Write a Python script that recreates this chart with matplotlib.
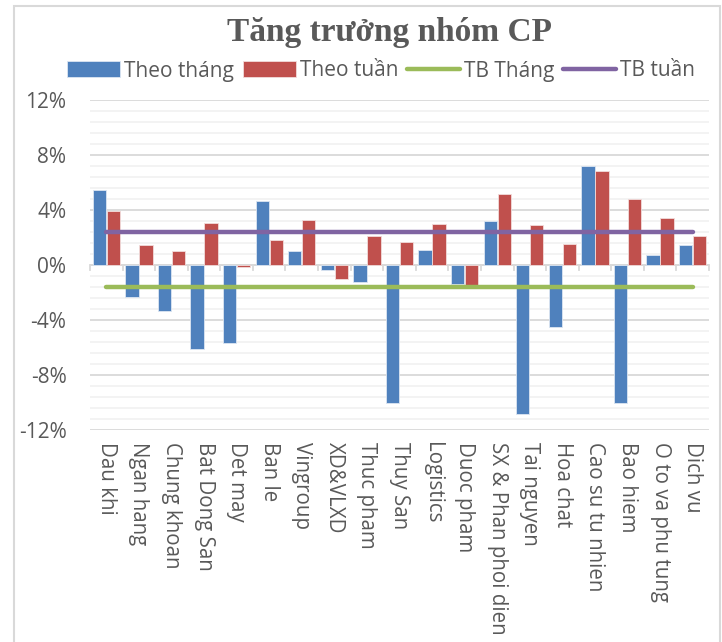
import numpy as np
import matplotlib
matplotlib.use("Agg")
from matplotlib import pyplot as plt
from matplotlib.patches import Rectangle
from matplotlib.ticker import MultipleLocator, FuncFormatter

categories = ["Dau khi", "Ngan hang", "Chung khoan", "Bat Dong San", "Det may",
              "Ban le", "Vingroup", "XD&VLXD", "Thuc pham", "Thuy San",
              "Logistics", "Duoc pham", "SX & Phan phoi dien", "Tai nguyen",
              "Hoa chat", "Cao su tu nhien", "Bao hiem", "O to va phu tung", "Dich vu"]

# growth in percent
theo_thang = [5.45, -2.35, -3.32, -6.08, -5.65, 4.68, 1.02, -0.34, -1.26, -10.0,
              1.10, -1.38, 3.20, -10.84, -4.50, 7.22, -10.06, 0.70, 1.48]
theo_tuan = [3.95, 1.45, 0.99, 3.08, -0.17, 1.82, 3.25, -1.04, 2.13, 1.70,
             2.95, -1.53, 5.16, 2.88, 1.55, 6.81, 4.82, 3.42, 2.08]
tb_thang = -1.62
tb_tuan = 2.38

blue = "#4F81BD"
red = "#C0504D"
green = "#9BBB59"
purple = "#8064A2"

W, H = 722, 642
fig = plt.figure(figsize=(W / 100, H / 100), dpi=100)
# chart border
fig.patches.append(Rectangle((14 / W, -0.01), (720 - 14) / W, 1 - 6 / H + 0.01,
                             transform=fig.transFigure, fill=False,
                             edgecolor="#d9d9d9", linewidth=1.5))

ax = fig.add_axes([90 / W, 1 - 430 / H, (709 - 90) / W, (430 - 100) / H])

x = np.arange(len(categories))
bw = 0.41
b1 = ax.bar(x - 0.215, theo_thang, bw, color=blue, edgecolor="#dce6f2",
            linewidth=0.6, zorder=3)
b2 = ax.bar(x + 0.215, theo_tuan, bw, color=red, edgecolor="#f2dcdb",
            linewidth=0.6, zorder=3)
l1, = ax.plot([x[0], x[-1]], [tb_thang, tb_thang], color=green, linewidth=3.2,
              solid_capstyle="round", zorder=4)
l2, = ax.plot([x[0], x[-1]], [tb_tuan, tb_tuan], color=purple, linewidth=3.2,
              solid_capstyle="round", zorder=4)

ax.set_xlim(-0.5, len(categories) - 0.5)
ax.set_ylim(-12, 12)

# gridlines
ax.yaxis.set_major_locator(MultipleLocator(4))
ax.yaxis.set_minor_locator(MultipleLocator(0.8))
ax.grid(axis="y", which="major", color="#d9d9d9", linewidth=1.3, zorder=0)
ax.grid(axis="y", which="minor", color="#f2f2f2", linewidth=1.3, zorder=0)
ax.tick_params(axis="y", which="both", length=0, labelsize=15,
               labelcolor="#595959", pad=17)
ax.yaxis.set_major_formatter(FuncFormatter(lambda v, p: f"{v:.0f}%"))

for s in ax.spines.values():
    s.set_visible(False)

# zero axis with category tick marks
ax.axhline(0, color="#d9d9d9", linewidth=1.3, zorder=2)
for b in np.arange(-0.5, len(categories) + 0.5, 1):
    ax.plot([b, b], [0, -0.35], color="#d9d9d9", linewidth=1.3, zorder=2,
            clip_on=False)

ax.set_xticks(x)
ax.set_xticklabels([])
ax.tick_params(axis="x", length=0)
for xi, name in zip(x, categories):
    ax.text(xi, -12.9, name, rotation=270, ha="center", va="top",
            fontsize=14.8, color="#595959", family="Open Sans")

for lbl in ax.get_yticklabels():
    lbl.set_family("Open Sans")

fig.text(0.54, 1 - 32 / H, "Tăng trưởng nhóm CP", ha="center", va="center",
         fontsize=24, fontweight="bold", color="#595959", family="Liberation Serif")

leg = fig.legend([b1, b2, l1, l2], ["Theo tháng", "Theo tuần", "TB Tháng", "TB tuần"],
                 loc="center", bbox_to_anchor=(381 / W, 1 - 71 / H),
                 ncol=4, frameon=False, handlelength=2.55,
                 handleheight=0.8, columnspacing=0.4, handletextpad=0.2,
                 prop={"family": "Open Sans", "size": 15})
for t in leg.get_texts():
    t.set_color("#595959")

fig.savefig("out.png", dpi=100)
